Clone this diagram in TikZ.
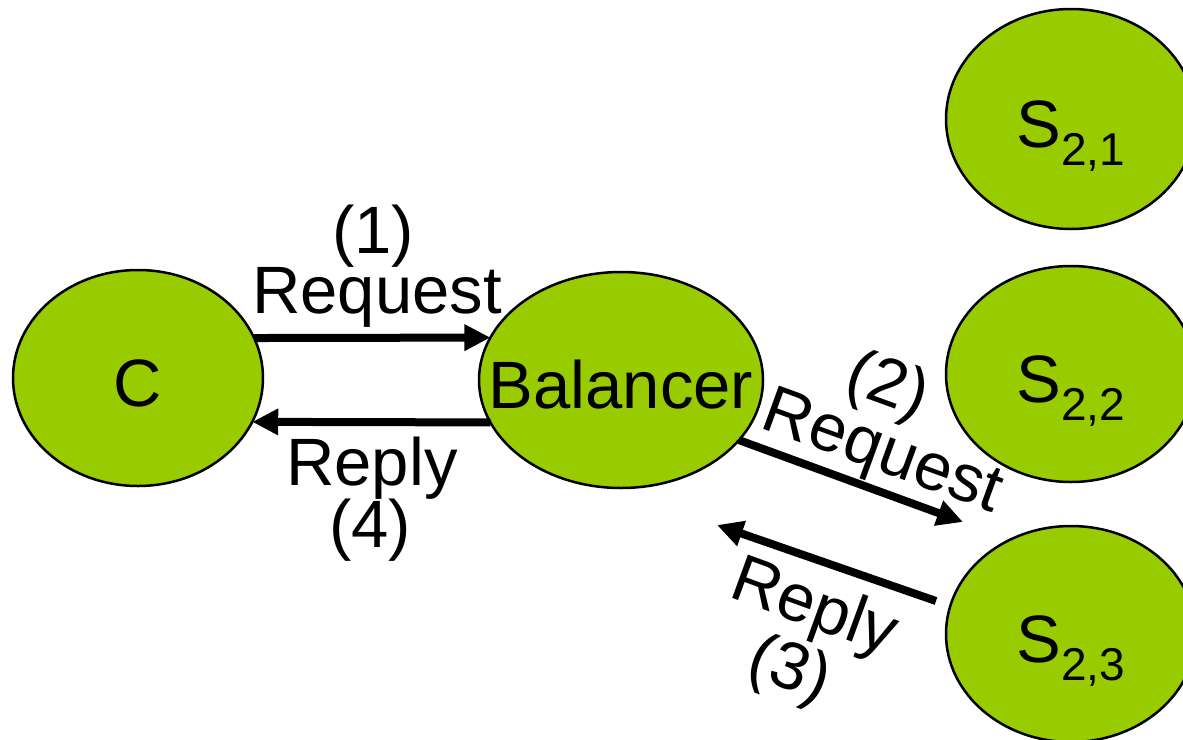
\documentclass[tikz,border=0pt]{standalone}
\usepackage{fontspec}
\setmainfont{Liberation Sans}
\usetikzlibrary{shapes.geometric,arrows.meta}
\definecolor{nodegreen}{RGB}{153,204,0}
\newcommand{\bigtxt}{\fontsize{67}{67}\selectfont}
\newcommand{\subtxt}[1]{\raisebox{-18pt}{\fontsize{46}{46}\selectfont #1}}
\tikzset{
  blob/.style={ellipse, draw=black, line width=2.5pt, fill=nodegreen, inner sep=0pt, outer sep=0pt,
    text height=56pt, text depth=0pt, font=\bigtxt},
  arr/.style={line width=8pt, -{Triangle[length=26pt,width=25pt]}},
  lbl/.style={anchor=base, inner sep=0pt, font=\bigtxt}
}
\begin{document}
\begin{tikzpicture}[x=1pt,y=-1pt]
\useasboundingbox (0,0) rectangle (1183,739);
\node[blob, minimum width=250pt, minimum height=216pt] (C) at (138,378) {\makebox[0pt]{C}};
\node[blob, minimum width=284pt, minimum height=216pt] (Bal) at (621,380) {\makebox[0pt]{Balancer}};
\node[blob, minimum width=250pt, minimum height=220pt] (S21) at (1071,119) {\makebox[0pt]{S\subtxt{2,1}}};
\node[blob, minimum width=250pt, minimum height=216pt] (S22) at (1071,374) {\makebox[0pt]{S\subtxt{2,2}}};
\node[blob, minimum width=250pt, minimum height=216pt] (S23) at (1071,634) {\makebox[0pt]{S\subtxt{2,3}}};

\coordinate (r2end) at (963,522);
\coordinate (r3start) at (936,601);
\coordinate (r3end) at (717,525);

\draw[arr] (C.19) -- (Bal.162);
\draw[arr] (Bal.198) -- (C.-21);
\draw[arr] (Bal.-27) -- (r2end);
\draw[arr] (r3start) -- (r3end);

\node[lbl] (l1) at (373,253) {(1)};
\node[lbl] (l1r) at (377,313) {Request};
\node[lbl] (l4r) at (372,485) {Reply};
\node[lbl] (l4) at (370,547) {(4)};
\node[lbl, rotate=-20] (l2) at (881,404) {(2)};
\node[lbl, rotate=-20] (l2r) at (876,470) {Request};
\node[lbl, rotate=-20] (l3r) at (808,626) {Reply};
\node[lbl, rotate=-20] (l3) at (783,688) {(3)};
\end{tikzpicture}
\end{document}
